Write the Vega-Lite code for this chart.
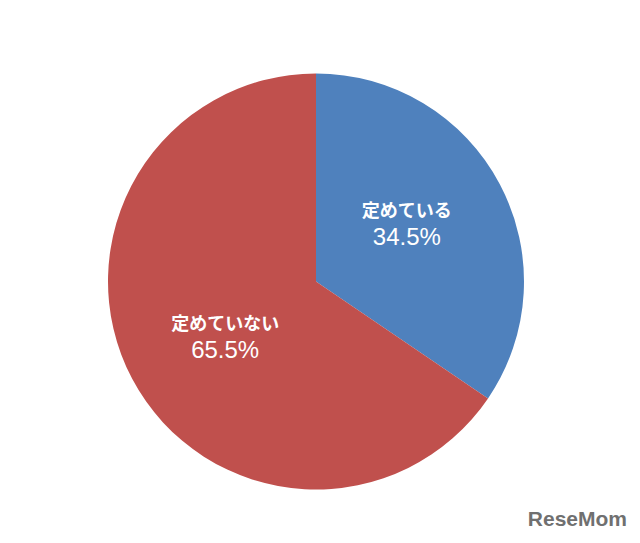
{
  "$schema": "https://vega.github.io/schema/vega-lite/v6.json",
  "width": 632,
  "height": 523,
  "padding": {"left": 0, "top": 20, "right": 8, "bottom": 0},
  "background": "white",
  "config": {"view": {"stroke": null}},
  "title": {
    "text": "ReseMom",
    "orient": "bottom",
    "anchor": "end",
    "offset": -34,
    "fontSize": 21,
    "font": "Liberation Sans",
    "fontWeight": "bold",
    "color": "#707070",
    "dx": -5
  },
  "data": {
    "values": [
      {"category": "定めている", "value": 34.5, "pct": "34.5%", "order": 1},
      {"category": "定めていない", "value": 65.5, "pct": "65.5%", "order": 2}
    ]
  },
  "encoding": {
    "theta": {"field": "value", "type": "quantitative", "stack": true},
    "order": {"field": "order", "type": "quantitative"},
    "color": {
      "field": "category",
      "type": "nominal",
      "scale": {"domain": ["定めている", "定めていない"], "range": ["#4f81bd", "#c0504d"]},
      "legend": null
    }
  },
  "layer": [
    {"mark": {"type": "arc", "radius": 208}},
    {
      "mark": {"type": "text", "radius": 107, "thetaOffset": -0.07, "dy": -13, "fontSize": 18, "fontWeight": "bold", "font": "Noto Sans CJK JP"},
      "encoding": {"text": {"field": "category"}, "color": {"value": "white"}}
    },
    {
      "mark": {"type": "text", "radius": 107, "thetaOffset": -0.07, "dy": 13, "fontSize": 24, "font": "Liberation Sans"},
      "encoding": {"text": {"field": "pct"}, "color": {"value": "white"}}
    }
  ]
}
